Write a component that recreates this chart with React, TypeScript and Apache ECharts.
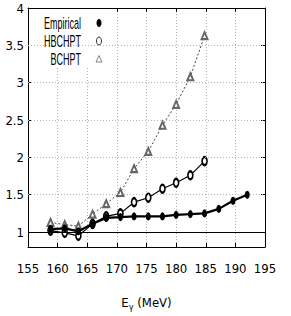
import React, { useEffect, useRef } from "react";
import * as echarts from "echarts";

const xValues = [158.8, 161.2, 163.5, 165.9, 168.2, 170.6, 172.9, 175.3, 177.7, 180.0, 182.4, 184.8, 187.2, 189.6, 192.0];
const empirical = [1.04, 1.05, 1.01, 1.11, 1.19, 1.20, 1.21, 1.21, 1.21, 1.23, 1.24, 1.25, 1.31, 1.42, 1.50];
const hbchpt = [1.02, 0.99, 0.95, 1.11, 1.21, 1.25, 1.40, 1.46, 1.58, 1.66, 1.76, 1.95];
const bchpt = [1.13, 1.10, 1.08, 1.24, 1.38, 1.53, 1.85, 2.08, 2.43, 2.71, 3.08, 3.63];
const yTicks = [1, 1.5, 2, 2.5, 3, 3.5, 4];
const yGrid = [1.5, 2, 2.5, 3, 3.5];
const seriesNames = ["Empirical", "HBCHPT", "BCHPT"];

const FONT = "'DejaVu Sans Condensed', 'Liberation Sans', sans-serif";
const LFONT = "'Liberation Sans', sans-serif";

function pairs(vals: number[]) {
  return vals.map((v, i) => [xValues[i], v]);
}

export default function App() {
  const ref = useRef<HTMLDivElement>(null);
  useEffect(() => {
    if (!ref.current) return;
    const chart = echarts.init(ref.current, null, { renderer: "svg" });
    const axisLine = { show: true, lineStyle: { color: "#000", width: 1 } };
    const option: any = {
      animation: false,
      backgroundColor: "#fff",
      grid: { left: 28, top: 8, right: 26, bottom: 60 },
      xAxis: [
        {
          type: "value",
          min: 155,
          max: 195,
          interval: 5,
          axisLine,
          axisTick: { show: true, inside: true, length: 4, lineStyle: { color: "#000" } },
          axisLabel: { color: "#000", fontFamily: FONT, fontSize: 13, margin: 15 },
          splitLine: { show: true, lineStyle: { color: "#b5b5b5", type: [1, 2], width: 1 } },
          name: "{e|E}{s|γ}{e| (MeV)}",
          nameLocation: "middle",
          nameGap: 47,
          nameTextStyle: {
            fontFamily: FONT,
            fontSize: 13,
            color: "#000",
            rich: {
              e: { fontFamily: FONT, fontSize: 13, color: "#000" },
              s: { fontFamily: FONT, fontSize: 9, color: "#000", padding: [8, 0, 0, 0] },
            },
          },
        },
        {
          type: "value",
          position: "top",
          min: 155,
          max: 195,
          interval: 5,
          axisLine,
          axisTick: { show: true, inside: true, length: 4, lineStyle: { color: "#000" } },
          axisLabel: { show: false },
          splitLine: { show: false },
        },
      ],
      yAxis: [
        {
          type: "value",
          min: 0.8,
          max: 4,
          axisLine,
          axisTick: { show: true, inside: true, length: 4, customValues: yTicks, lineStyle: { color: "#000" } },
          axisLabel: { color: "#000", fontFamily: FONT, fontSize: 13, margin: 4, customValues: yTicks },
          splitLine: { show: false },
        },
        {
          type: "value",
          position: "right",
          min: 0.8,
          max: 4,
          axisLine,
          axisTick: { show: true, inside: true, length: 4, customValues: yTicks, lineStyle: { color: "#000" } },
          axisLabel: { show: false },
          splitLine: { show: false },
        },
      ],
      series: [
        {
          type: "line",
          data: [],
          z: 1,
          silent: true,
          markLine: {
            silent: true,
            symbol: ["none", "none"],
            label: { show: false },
            data: [
              ...yGrid.map((v) => ({ yAxis: v, lineStyle: { color: "#b5b5b5", type: [1, 2], width: 1 } })),
              { yAxis: 1, lineStyle: { color: "#000", type: "solid", width: 1.2 } },
            ],
          },
        },
        {
          name: seriesNames[2],
          type: "line",
          data: pairs(bchpt),
          symbol: "emptyTriangle",
          symbolSize: [6, 7],
          itemStyle: { color: "#666", borderWidth: 0.8 },
          lineStyle: { color: "#444", width: 1, type: [2, 2] },
          z: 3,
        },
        {
          name: seriesNames[1],
          type: "line",
          data: pairs(hbchpt),
          symbol: "emptyCircle",
          symbolSize: [5, 8],
          itemStyle: { color: "#000", borderWidth: 0.8 },
          lineStyle: { color: "#000", width: 1.2 },
          z: 4,
        },
        {
          name: seriesNames[0],
          type: "line",
          data: pairs(empirical),
          symbol: "circle",
          symbolSize: [5, 8],
          itemStyle: { color: "#000" },
          lineStyle: { color: "#000", width: 2.2 },
          z: 5,
        },
      ],
      graphic: [
        { type: "rect", z: 5, shape: { x: 29, y: 9, width: 82, height: 58 }, style: { fill: "#fff" } },
        {
          type: "text", z: 6, x: 81, y: 23, scaleX: 0.75, scaleY: 1.4,
          style: { text: seriesNames[0], fontFamily: LFONT, fontSize: 12, fill: "#000", textAlign: "right", textVerticalAlign: "middle" },
        },
        {
          type: "text", z: 6, x: 81, y: 41, scaleX: 0.75, scaleY: 1.4,
          style: { text: seriesNames[1], fontFamily: LFONT, fontSize: 12, fill: "#000", textAlign: "right", textVerticalAlign: "middle" },
        },
        {
          type: "text", z: 6, x: 81, y: 59, scaleX: 0.75, scaleY: 1.4,
          style: { text: seriesNames[2], fontFamily: LFONT, fontSize: 12, fill: "#000", textAlign: "right", textVerticalAlign: "middle" },
        },
        { type: "ellipse", z: 6, shape: { cx: 99, cy: 23, rx: 2.5, ry: 4 }, style: { fill: "#000" } },
        { type: "ellipse", z: 6, shape: { cx: 99, cy: 41, rx: 2.5, ry: 4 }, style: { fill: "#fff", stroke: "#000", lineWidth: 0.8 } },
        {
          type: "polygon", z: 6,
          shape: { points: [[96, 62], [102, 62], [99, 55.5]] },
          style: { fill: "#fff", stroke: "#666", lineWidth: 0.8 },
        },
      ],
    };
    chart.setOption(option);
    return () => chart.dispose();
  }, []);
  return <div ref={ref} style={{ position: "absolute", left: 0, top: 0, width: 291, height: 316 }} />;
}
